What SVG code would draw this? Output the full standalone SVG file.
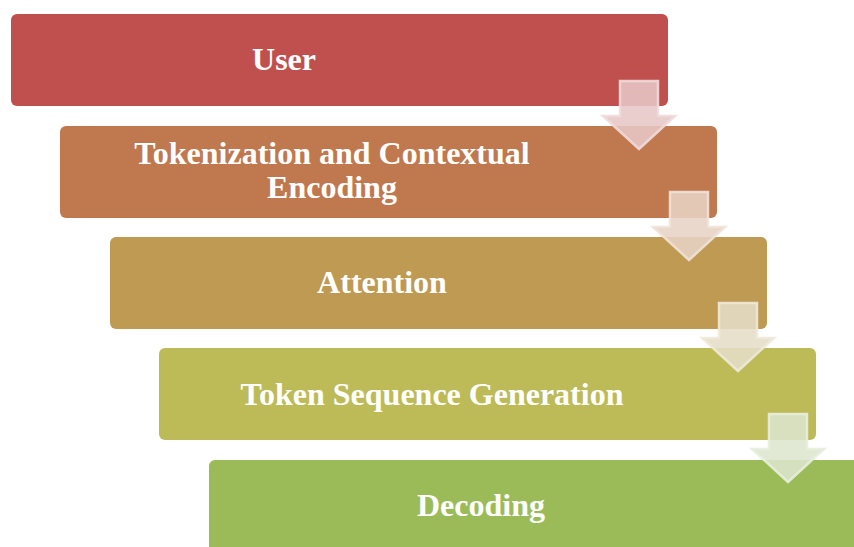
<svg xmlns="http://www.w3.org/2000/svg" width="854" height="547" viewBox="0 0 854 547">
  <defs>
    <style>
      .step { stroke: none; }
      .label { font-family: "Liberation Serif", "Times New Roman", serif; font-weight: bold; font-size: 32px; fill: #ffffff; text-anchor: middle; }
      .arrow { fill-opacity: 0.88; stroke-opacity: 0.9; stroke-width: 2.5; stroke-linejoin: miter; }
    </style>
    <!-- down arrow, origin at shaft top centre -->
    <path id="downArrow" d="M-19,0 H19 V35 H36 L0,68 L-36,35 H-19 Z"/>
  </defs>

  <rect width="854" height="547" fill="#ffffff"/>

  <g id="step-user">
    <rect class="step" x="11" y="14" width="657" height="92" rx="6" fill="#C0504D"/>
    <text class="label" x="284" y="70">User</text>
  </g>

  <g id="step-tokenization">
    <rect class="step" x="60" y="126" width="657" height="92" rx="6" fill="#C0784F"/>
    <text class="label" x="332" y="164">Tokenization and Contextual</text>
    <text class="label" x="332" y="198">Encoding</text>
  </g>

  <g id="step-attention">
    <rect class="step" x="110" y="237" width="657" height="92" rx="6" fill="#BE9A52"/>
    <text class="label" x="382" y="293">Attention</text>
  </g>

  <g id="step-generation">
    <rect class="step" x="159" y="348" width="657" height="92" rx="6" fill="#BDBB58"/>
    <text class="label" x="432" y="405">Token Sequence Generation</text>
  </g>

  <g id="step-decoding">
    <rect class="step" x="209" y="460" width="657" height="92" rx="6" fill="#9BBB59"/>
    <text class="label" x="481" y="516">Decoding</text>
  </g>

  <g id="connectors">
    <use href="#downArrow" class="arrow" transform="translate(639,81)" fill="#E7C7C7" stroke="#F0DADA"/>
    <use href="#downArrow" class="arrow" transform="translate(689,192)" fill="#E7D3C5" stroke="#F0E2D8"/>
    <use href="#downArrow" class="arrow" transform="translate(738,303)" fill="#E5DDC7" stroke="#EFE9DA"/>
    <use href="#downArrow" class="arrow" transform="translate(788,414)" fill="#DDE5CD" stroke="#E8EEDD"/>
  </g>
</svg>
